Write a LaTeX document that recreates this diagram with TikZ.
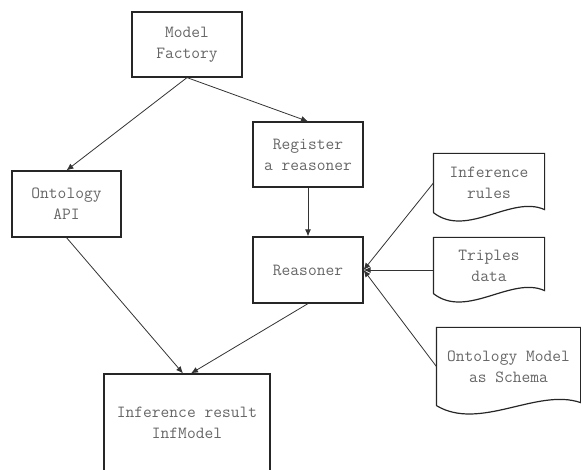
\documentclass[tikz,border=0pt]{standalone}
\usepackage{tikz}
\usetikzlibrary{positioning, arrows.meta, calc}

% outline of a document shape round a node
\newcommand{\docwave}[1]{%
  \draw[black!85, line width=1.2pt] (#1.south west) -- (#1.north west) -- (#1.north east) -- ([yshift=3pt]#1.south east)
    .. controls ($(#1.south east)!0.3!(#1.south west)+(0,18pt)$) and ($(#1.south east)!0.7!(#1.south west)+(0,-26pt)$) .. (#1.south west);}

\begin{document}
\begin{tikzpicture}[x=1pt, y=-1pt,
    box/.style={draw=black!85, line width=1.2pt, minimum width=110pt, minimum height=65pt, align=center,
      font=\ttfamily\fontsize{17}{21}\selectfont, text=black!60},
    doc/.style={box, draw=none},
    link/.style={-{Latex[length=7pt,width=6pt]}, line width=0.8pt, black!80}]
        \useasboundingbox (0,0) rectangle (581,470);

        % Boxes
        \node[box] (factory) at (187,44.5) {Model\\Factory};
        \node[box] (register) at (308,154.5) {Register\\a reasoner};
        \node[box, minimum width=109pt, minimum height=66pt] (api) at (66.5,204) {Ontology\\API};
        \node[box, minimum height=66pt] (reasoner) at (308,270) {Reasoner};
        \node[box, minimum width=166pt, minimum height=98pt] (result) at (187,423) {Inference result\\InfModel};

        % Documents
        \node[doc, minimum height=58pt] (rules) at (489,183) {Inference\\rules};
        \node[doc, minimum height=55pt] (triples) at (489,265.5) {Triples\\data};
        \node[doc, minimum width=143pt, minimum height=77pt] (schema) at (508.5,366.5) {Ontology Model\\as Schema};
        \docwave{rules}
        \docwave{triples}
        \docwave{schema}

        % Links
        \draw[link] (factory.south) -- (api.north);
        \draw[link] (factory.south) -- (register.north);
        \draw[link] (register) -- (reasoner);
        \draw[link] (api.south) -- ([xshift=-4pt]result.north);
        \draw[link] (reasoner.south) -- ([xshift=4pt]result.north);
        \draw[link] (rules.west) -- (reasoner.east);
        \draw[link] (triples.west |- reasoner.east) -- (reasoner.east);
        \draw[link] (schema.west) -- (reasoner.east);
      \end{tikzpicture}
\end{document}
